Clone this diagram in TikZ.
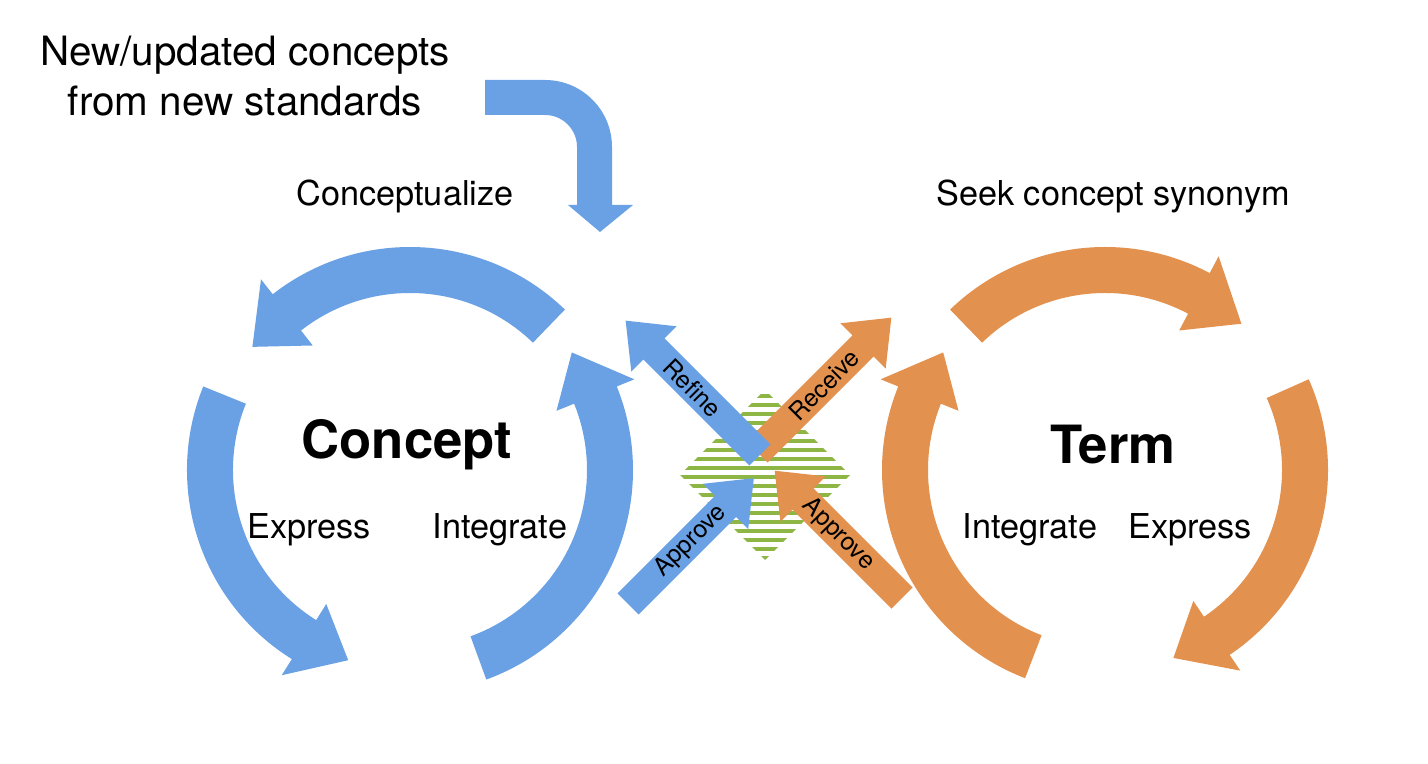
\documentclass[tikz,border=0pt]{standalone}
\usepackage{fontspec}
\setmainfont{TeX Gyre Heros}
\usetikzlibrary{calc}
\definecolor{bluearr}{HTML}{6AA1E4}
\definecolor{orangearr}{HTML}{E3914F}
\definecolor{greenstripe}{HTML}{8DB645}

% curved arrow around a centre: colour, centre, start angle, head base angle, tip angle
\newcommand{\ringarrow}[5][bluearr]{%
  \fill[#1] ($(#2)+(#3:223)$) arc[start angle=#3,end angle=#4,radius=223]
    -- ($(#2)+(#4:242)$) -- ($(#2)+(#5:200)$) -- ($(#2)+(#4:158)$)
    -- ($(#2)+(#4:177)$) arc[start angle=#4,end angle=#3,radius=177] -- cycle;}

% straight arrow: colour, start, angle, length, label, label rotation
\newcommand{\diagarrow}[6]{%
  \begin{scope}[shift={(#2)},rotate=#3]
    \fill[#1] (0,-15) -- (#4-40,-15) -- (#4-40,-32) -- (#4,0) -- (#4-40,32)
      -- (#4-40,15) -- (0,15) -- cycle;
    \node[arrowlabel,rotate=#6] at (0.5*#4,0) {#5};
  \end{scope}}

\tikzset{
  arrowlabel/.style={font=\fontsize{14}{16}\selectfont},
  steplabel/.style={font=\fontsize{19.5}{23}\selectfont},
  bigname/.style={font=\fontsize{30}{34}\selectfont\bfseries},
}

\begin{document}
\begin{tikzpicture}[x=0.02cm,y=0.02cm]
\useasboundingbox (0,0) rectangle (1428,764);

\coordinate (cb) at (410,294);
\coordinate (co) at (1105,294);

% arrow from new standards
\fill[bluearr] (485,684) -- (545,684) arc[start angle=90,end angle=0,radius=67]
  -- (612,559) -- (633,559) -- (600,532) -- (568,559) -- (577,559) -- (577,617)
  arc[start angle=0,end angle=90,radius=32] -- (485,649) -- cycle;

% concept cycle
\ringarrow[bluearr]{cb}{46}{128}{142}
\ringarrow[bluearr]{cb}{158}{238}{252}
\ringarrow[bluearr]{cb}{-70}{22}{36}

% term cycle
\ringarrow[orangearr]{co}{134}{62}{47}
\ringarrow[orangearr]{co}{24}{-56}{-70}
\ringarrow[orangearr]{co}{249}{158}{144}

% striped diamond
\begin{scope}
  \clip (765,374) -- (850,289) -- (765,204) -- (680,289) -- cycle;
  \foreach \y in {204,213,...,380}
    \fill[greenstripe] (670,\y) rectangle (860,\y+4);
\end{scope}

% crossing arrows
\diagarrow{orangearr}{757,312}{45}{190}{Receive}{45}
\diagarrow{bluearr}{760,309}{135}{190}{Refine}{-45}
\diagarrow{bluearr}{628,160}{45}{178}{Approve}{45}
\diagarrow{orangearr}{902,166}{135}{180}{Approve}{-45}

% labels
\node[align=center,font=\fontsize{23}{28}\selectfont] (newstd) at (245,688) {New/updated concepts\\from new standards};
\node[steplabel] (concz) at (405,568) {Conceptualize};
\node[steplabel] (seek) at (1113,568) {Seek concept synonym};
\node[bigname] (concept) at (407,319) {Concept};
\node[bigname] (term) at (1113,319) {Term};
\node[steplabel] (exprb) at (309,234) {Express};
\node[steplabel] (integb) at (500,234) {Integrate};
\node[steplabel] (intego) at (1030,234) {Integrate};
\node[steplabel] (expro) at (1190,234) {Express};
\end{tikzpicture}
\end{document}
